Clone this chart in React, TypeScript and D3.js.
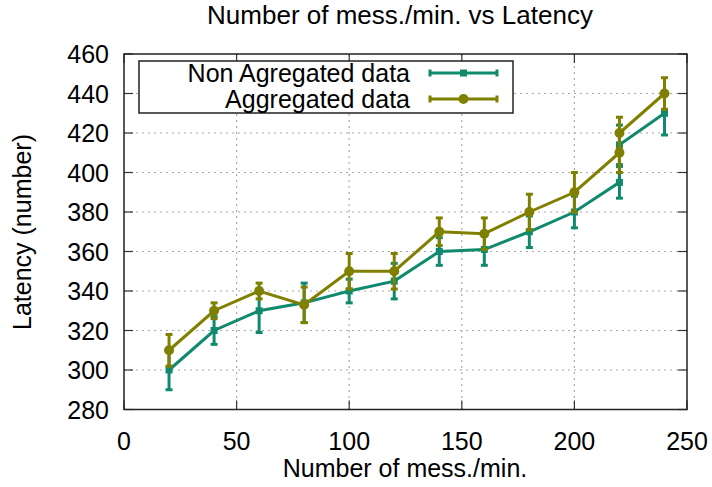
import React from "react";
import * as d3 from "d3";

const xValues = [20, 40, 60, 80, 100, 120, 140, 160, 180, 200, 220, 220, 240];
const nonAggValues = [300, 320, 330, 334, 340, 345, 360, 361, 370, 380, 395, 414, 430];
const nonAggErrors = [10, 7, 11, 10, 6, 9, 7, 8, 8, 8, 8, 10, 11];
const aggValues = [310, 330, 340, 333, 350, 350, 370, 369, 380, 390, 410, 420, 440];
const aggErrors = [8, 4, 4, 9, 9, 9, 7, 8, 9, 10, 10, 8, 8];
const xTicks = [0, 50, 100, 150, 200, 250];
const yTicks = [280, 300, 320, 340, 360, 380, 400, 420, 440, 460];
const seriesNames = ["Non Agregated data", "Aggregated data"];

const W = 712, H = 487;
const L = 124, R = 687, T = 54, B = 409.5;
const TEAL = "#0f8a6e";
const OLIVE = "#808000";
const FONT = "'Liberation Sans', Arial, sans-serif";
const FS = 25;

export default function App() {
  const x = d3.scaleLinear().domain([0, 250]).range([L, R]);
  const y = d3.scaleLinear().domain([280, 460]).range([B, T]);
  const line = d3.line<[number, number]>().x(d => x(d[0])).y(d => y(d[1]));

  const series = [
    { name: seriesNames[0], vals: nonAggValues, errs: nonAggErrors, color: TEAL, marker: "square" },
    { name: seriesNames[1], vals: aggValues, errs: aggErrors, color: OLIVE, marker: "circle" },
  ];

  const cap = 3.5;
  const tickLen = 9;

  const marker = (kind: string, cx: number, cy: number, color: string, key: any) =>
    kind === "square" ? (
      <rect key={key} x={cx - 3.5} y={cy - 3.5} width={7} height={7} fill={color} />
    ) : (
      <circle key={key} cx={cx} cy={cy} r={5} fill={color} />
    );

  const legY = [73, 99];

  return (
    <svg width={W} height={H} style={{ position: "absolute", left: 0, top: 0, background: "#fff" }} fontFamily={FONT}>
      <rect x={0} y={0} width={W} height={H} fill="#fff" />
      {/* grid */}
      {xTicks.slice(1, -1).map(t => (
        <line key={"gx" + t} x1={x(t)} x2={x(t)} y1={T} y2={B} stroke="#a8a8a8" strokeWidth={1.2} strokeDasharray="2,4" />
      ))}
      {yTicks.slice(1, -1).map(t => (
        <line key={"gy" + t} x1={L} x2={R} y1={y(t)} y2={y(t)} stroke="#a8a8a8" strokeWidth={1.2} strokeDasharray="2,4" />
      ))}
      {/* ticks */}
      {xTicks.map(t => (
        <g key={"tx" + t}>
          <line x1={x(t)} x2={x(t)} y1={B} y2={B - tickLen} stroke="#333" strokeWidth={1.2} />
          <line x1={x(t)} x2={x(t)} y1={T} y2={T + tickLen} stroke="#333" strokeWidth={1.2} />
          <text x={x(t)} y={B + 40} textAnchor="middle" fontSize={FS} fill="#000">{t}</text>
        </g>
      ))}
      {yTicks.map(t => (
        <g key={"ty" + t}>
          <line x1={L} x2={L + tickLen} y1={y(t)} y2={y(t)} stroke="#333" strokeWidth={1.2} />
          <line x1={R} x2={R - tickLen} y1={y(t)} y2={y(t)} stroke="#333" strokeWidth={1.2} />
          <text x={L - 15} y={y(t) + 9} textAnchor="end" fontSize={FS} fill="#000">{t}</text>
        </g>
      ))}
      {/* series */}
      {series.map((s, si) => {
        const pts: [number, number][] = xValues.map((xv, i) => [xv, s.vals[i]]);
        return (
          <g key={"s" + si}>
            <path d={line(pts) || ""} fill="none" stroke={s.color} strokeWidth={3} />
            {xValues.map((xv, i) => {
              const cx = x(xv);
              const y1 = y(s.vals[i] - s.errs[i]);
              const y2 = y(s.vals[i] + s.errs[i]);
              return (
                <g key={"e" + i}>
                  <line x1={cx} x2={cx} y1={y1} y2={y2} stroke={s.color} strokeWidth={3} />
                  <line x1={cx - cap} x2={cx + cap} y1={y1} y2={y1} stroke={s.color} strokeWidth={3} />
                  <line x1={cx - cap} x2={cx + cap} y1={y2} y2={y2} stroke={s.color} strokeWidth={3} />
                </g>
              );
            })}
            {xValues.map((xv, i) => marker(s.marker, x(xv), y(s.vals[i]), s.color, "m" + i))}
          </g>
        );
      })}
      {/* frame */}
      <rect x={L} y={T} width={R - L} height={B - T} fill="none" stroke="#222" strokeWidth={1.5} />
      {/* legend */}
      <rect x={139} y={61} width={374} height={52} fill="#fff" stroke="#222" strokeWidth={1.5} />
      {series.map((s, si) => (
        <g key={"l" + si}>
          <text x={410} y={legY[si] + 9} textAnchor="end" fontSize={FS} fill="#000">{s.name}</text>
          <line x1={430} x2={497} y1={legY[si]} y2={legY[si]} stroke={s.color} strokeWidth={3} />
          <line x1={430} x2={430} y1={legY[si] - cap} y2={legY[si] + cap} stroke={s.color} strokeWidth={3} />
          <line x1={497} x2={497} y1={legY[si] - cap} y2={legY[si] + cap} stroke={s.color} strokeWidth={3} />
          {marker(s.marker, 463.5, legY[si], s.color, "lm")}
        </g>
      ))}
      {/* titles */}
      <text x={400} y={24} textAnchor="middle" fontSize={26} fill="#000">Number of mess./min. vs Latency</text>
      <text x={405} y={477} textAnchor="middle" fontSize={FS} fill="#000">Number of mess./min.</text>
      <text transform={`translate(31,232) rotate(-90)`} textAnchor="middle" fontSize={FS} fill="#000">Latency (number)</text>
    </svg>
  );
}
